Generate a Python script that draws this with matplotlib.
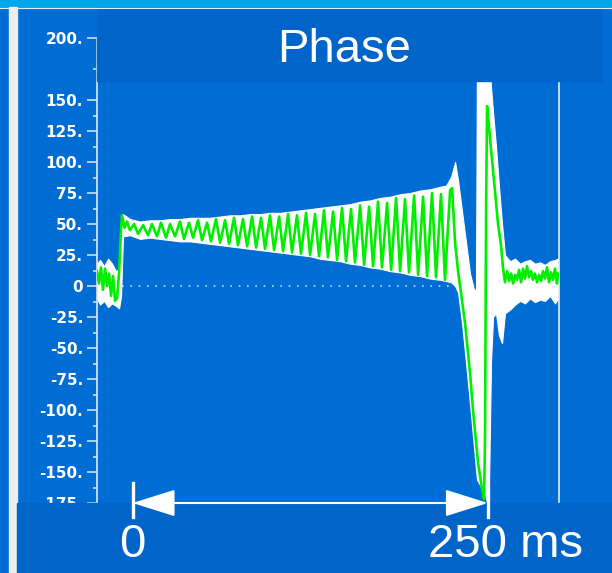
import matplotlib.pyplot as plt
from matplotlib.patches import Rectangle, FancyArrowPatch
from matplotlib.lines import Line2D

# --- Phase trace (ms, degrees) ---
phase_t = [-25.0, -23.6, -22.2, -20.8, -19.3, -17.9, -16.5, -15.1, -13.7, -12.3,
           -10.9, -9.5, -8.1, -7.4, -5.6, -3.9, -1.8, 1.1, 3.9, 7.4,
           10.9, 13.7, 17.2, 20.0, 23.6, 26.4, 29.9, 33.4, 36.2, 39.7,
           42.6, 46.1, 48.9, 52.4, 55.2, 58.7, 61.6, 65.1, 67.9, 71.4,
           74.2, 77.7, 80.6, 84.1, 86.9, 90.4, 93.2, 96.7, 99.6, 103.1,
           105.9, 109.4, 112.2, 115.7, 118.5, 122.1, 124.9, 128.4, 131.2, 134.7,
           137.5, 141.1, 143.9, 147.4, 150.2, 153.7, 156.5, 160.1, 162.9, 166.4,
           169.2, 172.7, 175.5, 179.1, 181.9, 185.4, 188.2, 191.7, 194.5, 198.1,
           200.9, 204.4, 207.2, 210.7, 213.5, 217.0, 219.8, 223.4, 224.8, 226.9,
           229.0, 230.4, 233.9, 237.4, 239.5, 243.1, 245.9, 247.3, 248.0, 248.7,
           249.4, 250.8, 252.2, 254.3, 257.1, 259.2, 260.6, 262.0, 263.5, 264.9,
           266.3, 267.7, 269.1, 270.5, 271.9, 273.3, 274.7, 276.1, 277.5, 278.9,
           280.3, 281.7, 283.1, 284.6, 286.0, 287.4, 288.8, 290.2, 291.6, 293.0,
           294.4, 295.8, 297.2, 298.6, 299.3]
phase_v = [12, 2, 15, -3, 14, 0, 10, -8, 8, -12,
           -10, 10, 45, 57, 47, 52, 45, 50, 42, 49,
           41, 50, 40, 51, 39, 50, 40, 52, 38, 51,
           39, 53, 37, 51, 36, 54, 35, 53, 34, 55,
           33, 54, 32, 56, 31, 55, 30, 57, 29, 56,
           28, 58, 27, 57, 26, 59, 25, 58, 24, 61,
           23, 60, 21, 63, 20, 62, 19, 65, 17, 64,
           16, 68, 15, 67, 13, 71, 12, 70, 11, 73,
           9, 72, 8, 75, 7, 74, 5, 77, 79, 35,
           12, 0, -30, -70, -100, -143, -164, -172, -120, 60,
           145, 128, 110, 85, 50, 33, 15, 3, 12, 4,
           10, 2, 9, 5, 13, 3, 14, 6, 16, 7,
           12, 5, 10, 3, 9, 4, 12, 6, 15, 3,
           11, 5, 14, 2, 10]

# --- Raw signal envelope (white band) ---
env_t = [-25.0, -22.9, -20.0, -17.2, -14.4, -11.6, -9.5, -8.1, -6.7, -1.8,
         5.3, 12.3, 19.3, 26.4, 33.4, 40.5, 47.5, 54.5, 61.6, 68.6,
         75.6, 82.7, 89.7, 96.7, 103.8, 110.8, 117.8, 124.9, 131.9, 138.9,
         146.0, 153.0, 160.1, 167.1, 174.1, 181.2, 188.2, 195.3, 202.3, 209.3,
         216.4, 220.6, 224.1, 226.9, 229.0, 231.8, 234.6, 237.4, 240.2, 241.6,
         242.3, 248.0, 249.4, 250.8, 252.2, 253.6, 255.7, 257.8, 259.9, 262.0,
         265.6, 269.1, 272.6, 276.1, 279.6, 283.1, 286.7, 290.2, 293.7, 297.2,
         299.3]
env_lo = [-10, -15, -12, -17, -14, -16, -18, -8, 40, 41,
          38, 39, 38, 37, 36, 36, 35, 34, 33, 32,
          31, 30, 29, 28, 27, 26, 25, 24, 22, 21,
          20, 18, 17, 15, 14, 12, 11, 9, 8, 6,
          5, 4, 3, 0, -5, -30, -62, -95, -130, -148,
          -156, -168, -175, -158, -60, -25, -22, -40, -46, -22,
          -19, -15, -12, -14, -10, -13, -11, -12, -8, -14,
          -10]
env_hi = [18, 21, 16, 22, 18, 12, 14, 45, 58, 54,
          52, 53, 53, 54, 54, 55, 55, 55, 56, 57,
          57, 58, 58, 59, 59, 60, 61, 62, 63, 64,
          65, 66, 68, 69, 71, 72, 74, 75, 77, 78,
          80, 81, 88, 100, 85, 60, 35, 10, -3, -3,
          185, 185, 185, 185, 160, 140, 112, 80, 50, 25,
          20, 22, 18, 20, 21, 18, 19, 17, 20, 21,
          22]

# --- Axis ticks ---
major_ticks = [200, 150, 125, 100, 75, 50, 25, 0, -25, -50, -75, -100, -125, -150, -175]
minor_ticks = [175, 137.5, 112.5, 87.5, 62.5, 37.5, 12.5, -12.5, -37.5, -62.5,
               -87.5, -112.5, -137.5, -162.5]
tick_labels = [f"{v}." if v != 0 else "0" for v in major_ticks]

bg = "#006dd5"
panel = "#0064c9"
W, H = 612, 573

fig = plt.figure(figsize=(W / 100, H / 100), dpi=100, facecolor=bg)
ax = fig.add_axes([97 / W, 70 / H, 462 / W, 465 / H])
ax.patch.set_visible(False)
ax.set_xlim(-25, 300)
ax.set_ylim(-175, 200)

ax.axhline(0, color="#c8d8f0", lw=1.2, ls=(0, (1, 4)), zorder=1)
ax.fill_between(env_t, env_lo, env_hi, color="white", lw=0.8, edgecolor="white", zorder=2)
ax.plot(phase_t, phase_v, color="#00ee00", lw=1.9, zorder=3)

for side in ["top", "bottom"]:
    ax.spines[side].set_visible(False)
ax.spines["left"].set_color("#dfe8f4")
ax.spines["left"].set_linewidth(1.2)
ax.spines["right"].set_color("#e8eef8")
ax.spines["right"].set_linewidth(1.2)

ax.set_xticks([])
ax.set_yticks(major_ticks, tick_labels, fontweight="bold", fontsize=11)
ax.set_yticks(minor_ticks, minor=True)
ax.tick_params(axis="y", which="major", length=7, width=1.1, color="#dfe8f4",
               labelcolor="white", pad=3)
ax.tick_params(axis="y", which="minor", length=3, width=1.1, color="#dfe8f4")

# --- Frame decoration ---
fig.add_artist(Rectangle((0, 1 - 7 / H), 1, 7 / H, transform=fig.transFigure,
                         color="#00a6ea", zorder=2))
fig.add_artist(Line2D([0, 1], [1 - 7.5 / H] * 2, transform=fig.transFigure,
                      color="#e0f0ff", lw=0.8, zorder=3))
fig.add_artist(Rectangle((9 / W, 0), 8 / W, 1 - 7 / H, transform=fig.transFigure,
                         color="#eeeeee", zorder=2))
fig.add_artist(Rectangle((97 / W, 1 - 81 / H), 505 / W, 73 / H, transform=fig.transFigure,
                         color=panel, zorder=2))
fig.add_artist(Rectangle((17 / W, 0), 1 - 17 / W, 70 / H, transform=fig.transFigure,
                         color=panel, zorder=2))

fig.text(344 / W, 1 - 62 / H, "Phase", ha="center", va="baseline", color="white",
         fontsize=34, family="Liberation Sans", zorder=4)

# --- 0 to 250 ms scale arrow ---
arrow = FancyArrowPatch((0, -175), (250, -175), transform=ax.transData,
                        arrowstyle="<|-|>,head_length=27,head_width=8.5",
                        mutation_scale=1, color="white", lw=1.5,
                        shrinkA=0, shrinkB=0, zorder=4)
fig.add_artist(arrow)
for t in [0, 250]:
    fig.add_artist(Line2D([t, t], [0.043, -0.030], transform=ax.get_xaxis_transform(),
                          color="white", lw=2.4, zorder=4))

fig.text(132.5 / W, 1 - 557 / H, "0", ha="center", va="baseline", color="white",
         fontsize=34, family="Liberation Sans", zorder=4)
fig.text(428 / W, 1 - 557 / H, "250 ms", ha="left", va="baseline", color="white",
         fontsize=34, family="Liberation Sans", zorder=4)

fig.savefig("out.png", dpi=100, facecolor=bg)
